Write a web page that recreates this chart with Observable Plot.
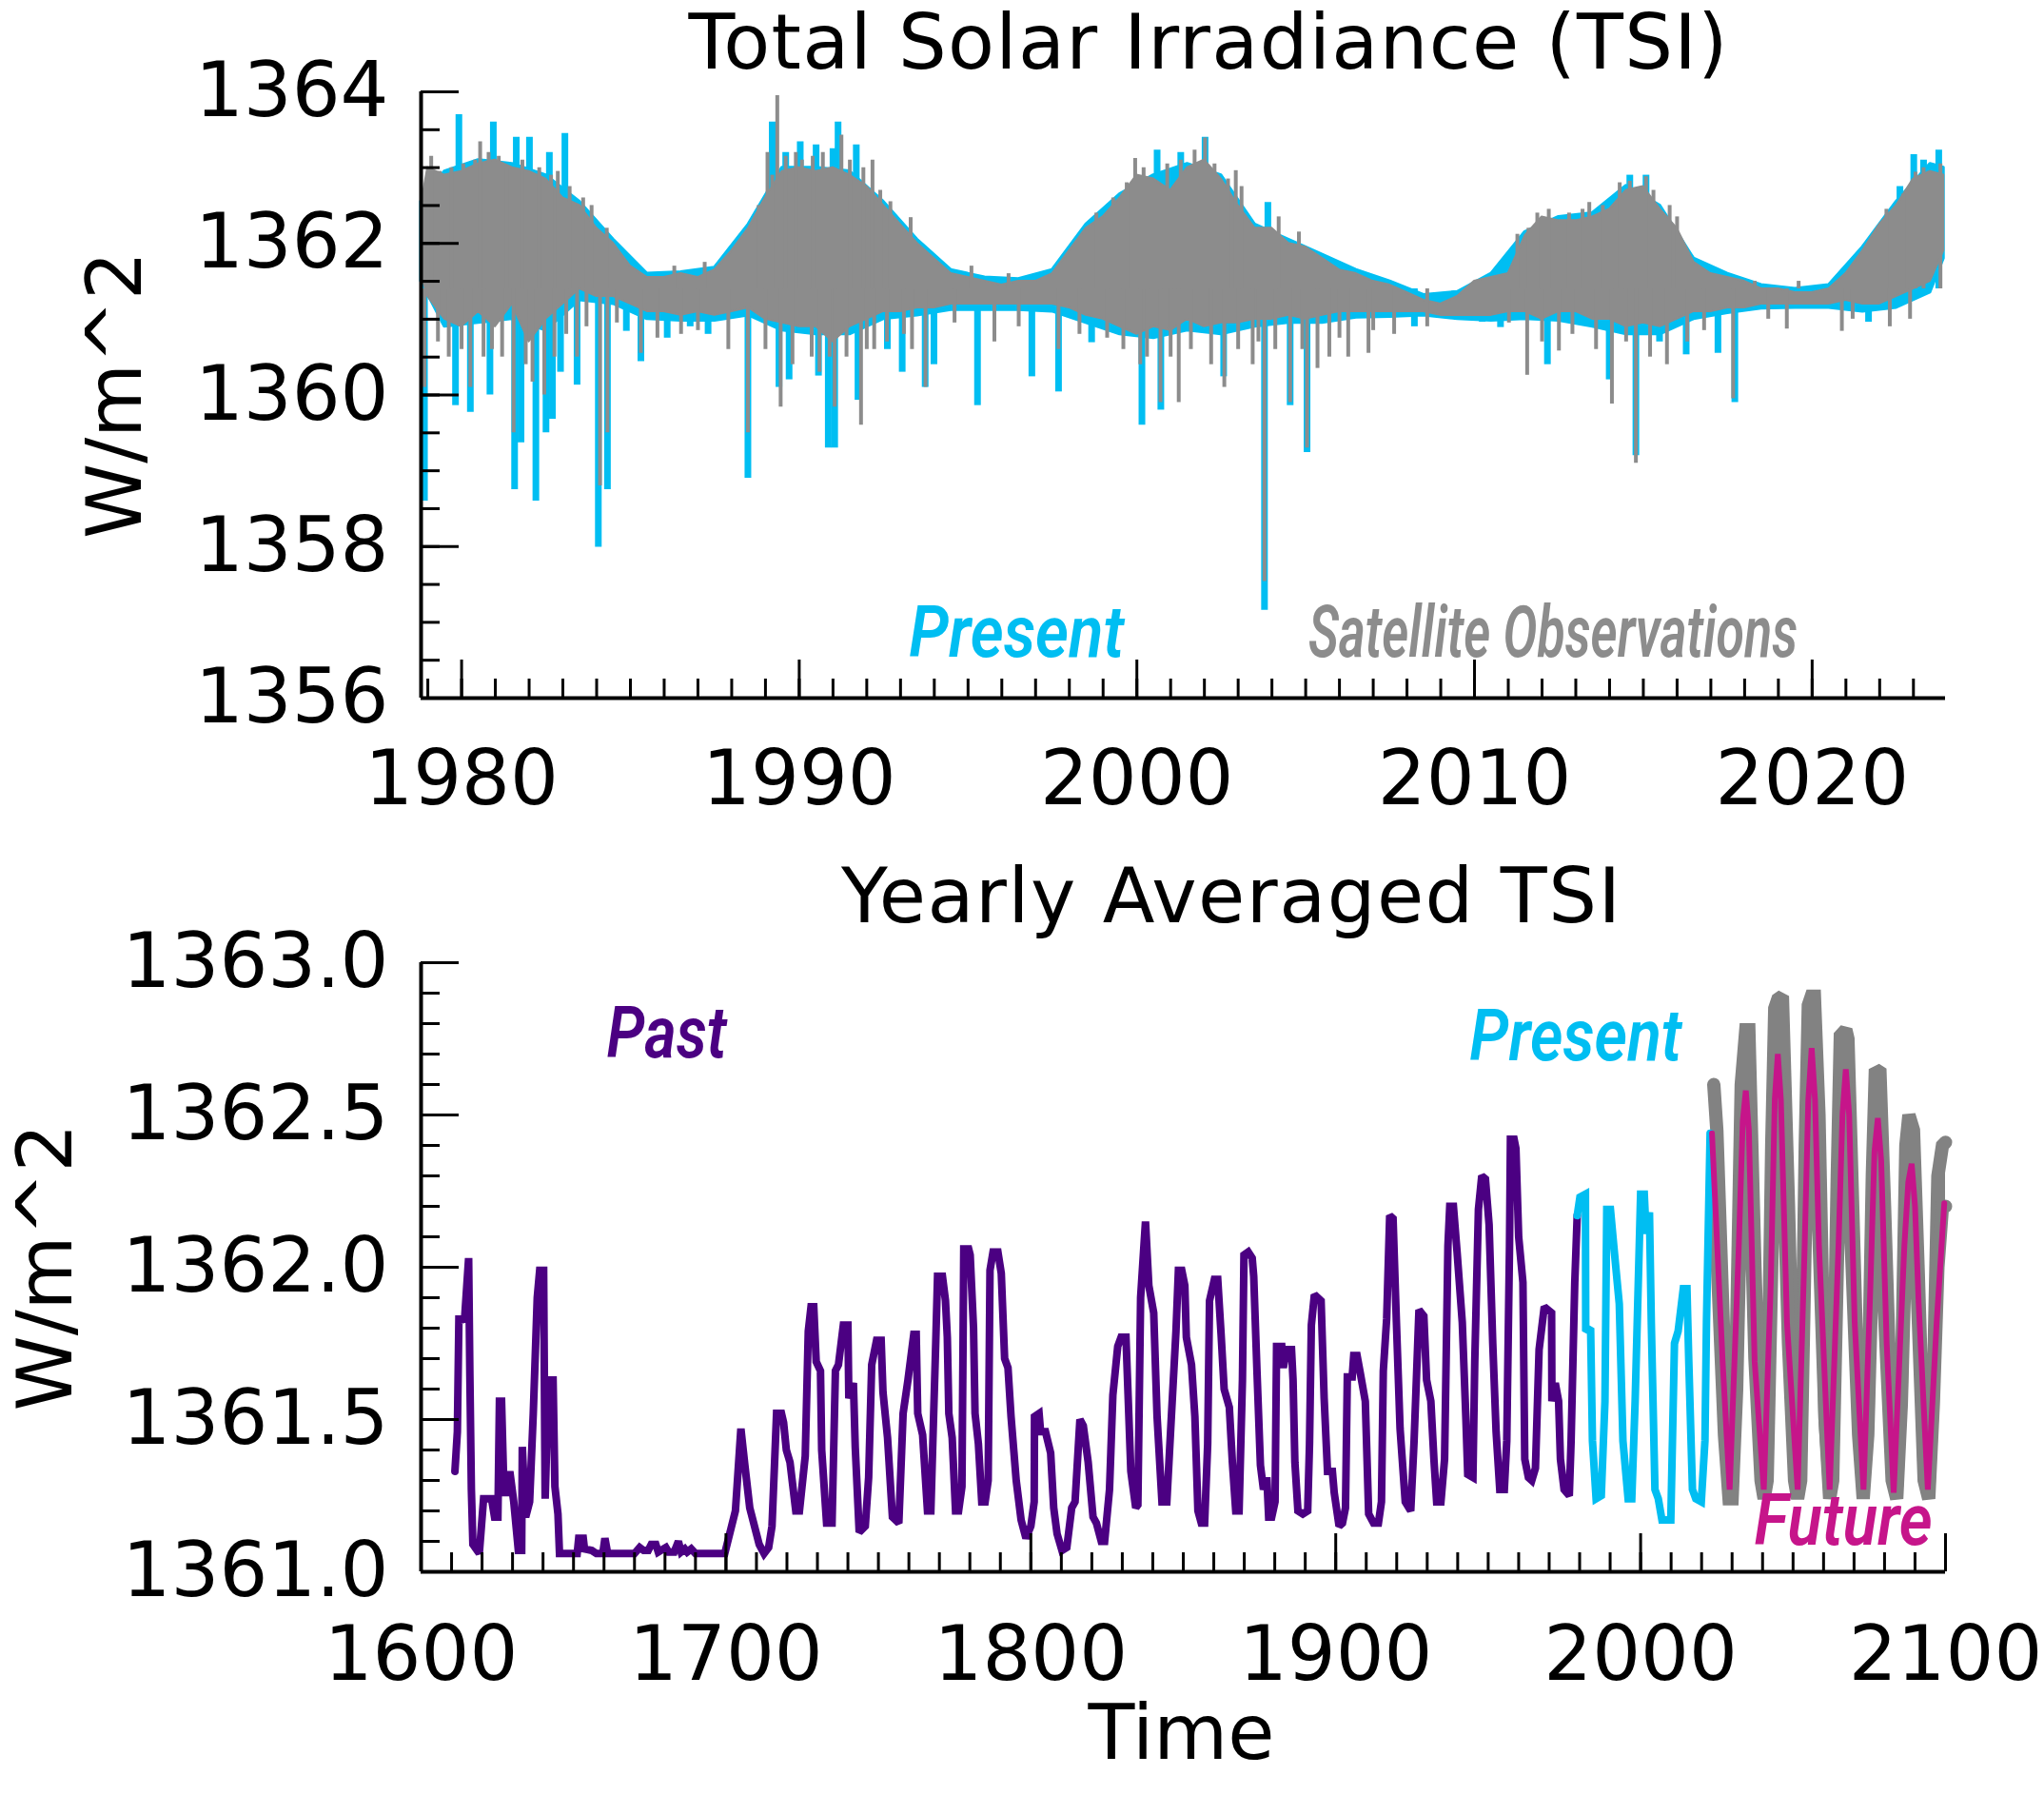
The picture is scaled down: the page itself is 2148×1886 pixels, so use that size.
<!DOCTYPE html>
<html><head><meta charset="utf-8">
<script src="https://cdn.jsdelivr.net/npm/d3@7"></script>
<script src="https://cdn.jsdelivr.net/npm/@observablehq/plot@0.6"></script>
<style>
body{margin:0;background:#fff;}
#chart{position:relative;width:2148px;height:1886px;background:#fff;}
#chart svg{position:absolute;left:0;display:block;}
</style></head><body><div id="chart"></div>
<script>
// ---------------- Top panel: Total Solar Irradiance (satellite observations) ----------------
const tsiTitle = "Total Solar Irradiance (TSI)";
const unitsLabel = "W/m^2";
const tsiXDomain = [1978.8, 2023.95];
const tsiYDomain = [1356, 1364];
const tsiXMajor = [1980, 1990, 2000, 2010, 2020];
const tsiYMajor = [1356, 1358, 1360, 1362, 1364];

// envelope of the grey (satellite observation) daily series
const grayYears = [1978.8,1979,1979.5,1980,1980.5,1981,1981.5,1982,1982.5,1983,1983.5,1984,1984.5,1985,1985.5,1986,1986.5,1987,1987.5,1988,1988.5,1989,1989.5,1990,1990.5,1991,1991.5,1992,1992.5,1993,1993.5,1994,1994.5,1995,1995.5,1996,1996.5,1997,1997.5,1998,1998.5,1999,1999.5,2000,2000.5,2001,2001.5,2002,2002.5,2003,2003.5,2004,2004.5,2005,2005.5,2006,2006.5,2007,2007.5,2008,2008.5,2009,2009.5,2010,2010.5,2011,2011.5,2012,2012.5,2013,2013.5,2014,2014.5,2015,2015.5,2016,2016.5,2017,2017.5,2018,2018.5,2019,2019.5,2020,2020.5,2021,2021.5,2022,2022.5,2023,2023.5,2023.9];
const grayHigh = [1362.5,1363.0,1362.9,1362.95,1363.05,1363.1,1363.0,1362.95,1362.85,1362.6,1362.5,1362.2,1362.0,1361.7,1361.55,1361.55,1361.6,1361.55,1361.65,1361.9,1362.2,1362.6,1362.95,1363.0,1362.95,1363.0,1362.9,1362.75,1362.5,1362.25,1362.0,1361.8,1361.6,1361.55,1361.5,1361.45,1361.5,1361.5,1361.6,1361.9,1362.2,1362.35,1362.6,1362.9,1362.85,1362.7,1363.0,1363.1,1362.85,1362.5,1362.2,1362.2,1362.0,1361.95,1361.8,1361.65,1361.6,1361.5,1361.45,1361.35,1361.25,1361.2,1361.3,1361.5,1361.55,1361.6,1362.1,1362.35,1362.3,1362.3,1362.35,1362.45,1362.7,1362.75,1362.45,1362.2,1361.75,1361.6,1361.55,1361.5,1361.4,1361.4,1361.35,1361.35,1361.4,1361.6,1361.9,1362.25,1362.5,1362.85,1362.95,1362.9];
const grayLow = [1361.6,1361.3,1361.0,1360.9,1361.1,1360.9,1361.2,1360.7,1361.0,1361.2,1361.4,1361.3,1361.3,1361.2,1361.1,1361.1,1361.05,1361.1,1361.05,1361.1,1361.15,1361.0,1360.95,1360.9,1360.9,1360.7,1360.9,1361.0,1361.1,1361.1,1361.15,1361.15,1361.2,1361.2,1361.2,1361.2,1361.2,1361.2,1361.2,1361.15,1361.05,1361.0,1360.9,1360.8,1360.9,1360.85,1361.0,1360.9,1360.95,1360.95,1361.0,1361.0,1361.05,1361.0,1361.05,1361.1,1361.1,1361.1,1361.1,1361.1,1361.1,1361.05,1361.05,1361.05,1361.05,1361.1,1361.1,1361.0,1361.1,1361.1,1361.0,1361.0,1360.9,1360.95,1360.9,1361.0,1361.1,1361.1,1361.15,1361.15,1361.2,1361.2,1361.2,1361.2,1361.2,1361.25,1361.2,1361.2,1361.3,1361.4,1361.5,1361.9];

// envelope of the cyan ("Present") daily series, mostly hidden under the grey one
const cyanYears = [1978.8,1979.5,1980.5,1981.5,1982.5,1983.5,1984.5,1985.5,1986.5,1987.5,1988.5,1989.5,1990.5,1991.5,1992.5,1993.5,1994.5,1995.5,1996.5,1997.5,1998.5,1999.5,2000.5,2001.5,2002.5,2003.5,2004.5,2005.5,2006.5,2007.5,2008.5,2009.5,2010.5,2011.5,2012.5,2013.5,2014.5,2015.5,2016.5,2017.5,2018.5,2019.5,2020.5,2021.5,2022.5,2023.5,2023.9];
const cyanHigh = [1362.55,1362.95,1363.1,1363.05,1362.9,1362.55,1362.05,1361.6,1361.62,1361.68,1362.25,1363.0,1363.0,1362.95,1362.55,1362.05,1361.65,1361.55,1361.53,1361.65,1362.25,1362.65,1362.9,1363.05,1362.9,1362.25,1362.05,1361.85,1361.65,1361.5,1361.32,1361.36,1361.6,1362.15,1362.35,1362.4,1362.76,1362.5,1361.8,1361.6,1361.45,1361.4,1361.45,1361.95,1362.55,1363.05,1363.0];
const cyanLow = [1361.5,1360.9,1360.95,1361.0,1360.85,1361.25,1361.2,1361.0,1360.98,1360.98,1361.05,1360.85,1360.8,1360.8,1361.0,1361.05,1361.12,1361.12,1361.12,1361.1,1360.95,1360.8,1360.75,1360.85,1360.8,1360.9,1360.95,1360.95,1361.02,1361.03,1361.05,1361.0,1360.98,1361.0,1360.98,1360.9,1360.8,1360.8,1361.0,1361.08,1361.14,1361.15,1361.15,1361.1,1361.15,1361.35,1361.8];

// isolated daily excursions (sunspot dips and bright peaks)
const spikeBase = 1361.4;
const cyanSpikeYears = [1978.9,1979.82,1979.92,1980.26,1980.84,1980.94,1981.57,1981.62,1981.76,1982.01,1982.2,1982.5,1982.6,1982.69,1982.93,1983.06,1983.42,1984.05,1984.32,1984.88,1985.31,1986.09,1986.77,1987.3,1988.48,1989.2,1989.4,1989.6,1989.7,1990.03,1990.5,1990.57,1990.86,1991.0,1991.05,1991.15,1991.69,1991.74,1992.61,1993.05,1993.73,1993.99,1995.28,1996.89,1997.68,1998.66,2000.15,2000.6,2000.71,2001.3,2002.02,2002.57,2003.78,2003.88,2004.54,2005.04,2008.22,2010.23,2010.77,2012.16,2013.99,2014.6,2014.78,2015.08,2015.48,2016.27,2017.21,2017.71,2021.67,2022.6,2023.01,2023.3,2023.75];
const cyanSpikeValues = [1358.6,1359.86,1363.7,1359.77,1360.0,1363.6,1358.75,1363.4,1359.37,1363.4,1358.6,1359.5,1363.2,1359.68,1360.3,1363.45,1360.13,1357.99,1358.75,1360.84,1360.44,1360.75,1360.9,1360.8,1358.9,1363.6,1360.1,1363.2,1360.2,1363.34,1363.3,1360.25,1359.3,1363.25,1359.3,1363.6,1363.3,1359.93,1360.6,1360.3,1360.1,1360.4,1359.86,1360.24,1360.04,1360.69,1359.6,1363.23,1359.8,1363.2,1363.4,1360.24,1357.16,1362.54,1359.86,1359.24,1360.9,1360.96,1360.89,1360.4,1360.2,1362.9,1359.2,1362.9,1360.7,1360.53,1360.55,1359.9,1360.96,1362.75,1363.17,1363.1,1363.23];
const graySpikeYears = [1978.9,1979.1,1979.3,1979.35,1979.62,1979.7,1980.0,1980.05,1980.26,1980.4,1980.55,1980.65,1980.8,1980.9,1981.1,1981.2,1981.35,1981.54,1981.8,1981.9,1982.1,1982.3,1982.45,1982.65,1982.75,1982.85,1983.1,1983.2,1983.42,1983.6,1983.7,1983.85,1984.1,1984.3,1984.32,1984.6,1985.31,1985.8,1986.3,1986.5,1987.0,1987.2,1987.9,1988.48,1988.8,1989.0,1989.06,1989.2,1989.35,1989.45,1989.6,1989.8,1989.9,1990.08,1990.37,1990.4,1990.6,1990.7,1990.9,1991.05,1991.25,1991.4,1991.5,1991.83,1991.9,1992.0,1992.17,1992.22,1992.4,1992.6,1992.7,1993.1,1993.3,1993.34,1993.74,1994.6,1995.1,1995.78,1996.2,1996.5,1997.68,1998.3,1998.8,1999.12,1999.3,1999.6,1999.7,1999.95,2000.1,2000.2,2000.3,2000.7,2000.9,2001.0,2001.24,2001.3,2001.6,2001.71,2002.02,2002.2,2002.3,2002.59,2002.7,2002.93,2003.0,2003.1,2003.43,2003.6,2003.78,2004.1,2004.2,2004.54,2004.8,2004.9,2005.04,2005.35,2005.7,2006.0,2006.26,2006.86,2007.0,2007.62,2008.6,2011.02,2011.27,2011.56,2011.6,2011.86,2012.0,2012.2,2012.5,2012.8,2012.9,2013.2,2013.4,2013.6,2013.8,2014.07,2014.3,2014.49,2014.6,2014.78,2015.08,2015.2,2015.3,2015.7,2015.78,2016.0,2016.3,2016.8,2017.66,2018.3,2018.7,2019.25,2019.6,2020.88,2021.2,2022.2,2022.3,2022.7,2022.9,2023.06,2023.3,2023.8];
const graySpikeValues = [1360.1,1363.15,1360.7,1362.95,1360.5,1363.0,1360.6,1363.05,1360.1,1363.1,1363.34,1360.5,1363.2,1360.6,1363.15,1360.5,1363.0,1359.5,1363.1,1360.4,1360.17,1363.0,1360.0,1362.9,1360.5,1362.95,1360.8,1362.75,1360.5,1362.6,1360.9,1362.5,1358.8,1362.2,1359.5,1360.95,1360.55,1360.75,1361.7,1360.8,1360.85,1361.75,1360.6,1359.5,1362.5,1360.6,1363.2,1362.9,1363.95,1359.84,1363.15,1360.4,1363.2,1363.1,1360.5,1363.15,1360.3,1363.2,1360.5,1359.84,1363.43,1360.5,1363.1,1359.6,1363.0,1360.6,1363.1,1360.6,1362.7,1360.7,1362.55,1360.8,1362.34,1360.6,1360.1,1360.95,1361.7,1360.7,1361.6,1360.9,1360.6,1360.8,1362.4,1360.75,1362.6,1360.6,1362.8,1363.12,1360.4,1363.0,1360.5,1359.9,1363.05,1360.5,1359.9,1363.1,1360.6,1363.23,1363.39,1360.4,1363.05,1360.1,1362.85,1362.96,1360.6,1362.75,1360.4,1360.7,1357.54,1360.6,1362.35,1359.9,1362.15,1360.6,1359.3,1360.35,1360.5,1360.75,1360.5,1360.55,1360.85,1360.8,1360.9,1360.95,1362.12,1360.26,1362.2,1362.4,1360.7,1362.45,1360.58,1362.4,1360.8,1362.45,1362.54,1360.6,1362.5,1359.88,1362.8,1360.7,1362.82,1359.1,1362.88,1360.5,1362.7,1360.4,1362.5,1362.35,1360.7,1360.85,1359.95,1361.5,1361.0,1360.87,1361.5,1360.84,1361.0,1362.45,1360.9,1362.65,1361.0,1362.94,1363.0,1363.05];

// ---------------- Bottom panel: Yearly Averaged TSI ----------------
const yearlyTitle = "Yearly Averaged TSI";
const timeLabel = "Time";
const yrXDomain = [1600, 2100];
const yrYDomain = [1361, 1363];
const yrXMajor = [1600, 1700, 1800, 1900, 2000, 2100];
const yrYMajor = [1361.0, 1361.5, 1362.0, 1362.5, 1363.0];

const pastYears = [1611.1,1611.9,1612.4,1613.7,1614.2,1615.6,1616.0,1616.5,1617.0,1619.1,1620.5,1623.1,1624.1,1625.2,1625.7,1626.4,1627.2,1628.3,1629.1,1630.4,1631.9,1633.0,1633.2,1634.3,1635.6,1636.8,1638.1,1638.9,1640.2,1640.7,1641.8,1643.3,1643.9,1644.9,1645.4,1651.2,1651.7,1653.2,1653.6,1656,1657.5,1659.6,1660.3,1661.2,1670,1671.7,1673,1674.5,1675.5,1677,1677.8,1680.3,1681.2,1683,1684.4,1685.3,1686.5,1687.3,1688.6,1690,1699.6,1703.1,1704.9,1706.2,1707.8,1710.9,1712.5,1714.0,1715.1,1716.6,1718.2,1718.9,1719.8,1721.0,1722.9,1724.1,1726.0,1727.0,1727.9,1728.8,1729.6,1731.0,1731.4,1733.0,1734.8,1735.9,1736.9,1738.5,1740.0,1740.3,1741.8,1742.4,1743.7,1745.7,1746.8,1747.8,1749.4,1750.9,1751.5,1753.0,1754.6,1756.7,1758.1,1759.7,1761.6,1762.4,1762.9,1764.5,1766.1,1767.2,1768.8,1769.4,1771.0,1772.0,1772.6,1773.1,1774.2,1775.3,1776.3,1777.4,1778.0,1779.6,1780.1,1781.2,1781.7,1782.8,1783.9,1785.0,1786.0,1786.6,1787.6,1789.2,1790.3,1791.4,1792.5,1793.5,1795.2,1796.8,1798.4,1800.0,1801.1,1801.2,1802.7,1803.2,1804.8,1806.5,1807.5,1808.6,1810.2,1811.8,1813.4,1814.5,1816.1,1817.2,1818.8,1820.4,1821.5,1823.1,1824.2,1825.8,1826.9,1828.5,1829.6,1831.2,1832.8,1834.4,1835.1,1836.0,1837.6,1838.7,1840.3,1841.4,1843.0,1844.6,1846.2,1847.6,1848.4,1849.5,1850.5,1851.0,1852.7,1853.8,1854.8,1855.9,1857.0,1858.0,1858.6,1860.2,1861.3,1862.4,1863.4,1865.1,1866.1,1867.2,1868.3,1869.4,1869.9,1871.3,1872.6,1873.1,1874.2,1875.3,1876.3,1877.4,1878.0,1879.0,1880.1,1880.6,1882.3,1882.8,1883.9,1885.5,1886.0,1886.6,1887.6,1889.2,1890.8,1891.4,1892.0,1893.0,1895.2,1895.7,1896.2,1897.3,1898.9,1899.5,1901.1,1902.2,1903.2,1903.8,1905.4,1905.9,1907.0,1908.1,1909.7,1910.8,1912.4,1914.0,1915.0,1915.6,1916.7,1917.7,1918.8,1919.9,1921.1,1922.8,1924.6,1925.7,1927.3,1928.9,1929.8,1931.2,1932.2,1933.1,1934.5,1935.7,1936.8,1937.4,1938.6,1939.8,1941.5,1942.7,1943.3,1945.0,1945.6,1946.8,1947.9,1949.1,1950.3,1951.5,1952.6,1953.8,1955.3,1956.1,1957.0,1957.3,1958.5,1959.1,1960.0,1961.4,1962.0,1963.2,1964.3,1965.5,1966.7,1968.4,1970.8,1970.9,1972.0,1973.1,1973.7,1974.9,1976.6,1977.2,1978.4,1979.2];
const pastTSI = [1361.33,1361.46,1361.83,1361.83,1361.82,1362.03,1361.65,1361.27,1361.09,1361.06,1361.24,1361.24,1361.18,1361.18,1361.56,1361.56,1361.26,1361.26,1361.33,1361.23,1361.07,1361.07,1361.41,1361.18,1361.23,1361.52,1361.9,1361.99,1361.99,1361.24,1361.63,1361.63,1361.28,1361.19,1361.06,1361.06,1361.11,1361.11,1361.075,1361.07,1361.06,1361.06,1361.11,1361.06,1361.06,1361.08,1361.07,1361.07,1361.09,1361.09,1361.065,1361.08,1361.065,1361.065,1361.1,1361.065,1361.075,1361.065,1361.075,1361.06,1361.06,1361.2,1361.47,1361.35,1361.21,1361.09,1361.06,1361.08,1361.15,1361.52,1361.52,1361.49,1361.4,1361.36,1361.2,1361.2,1361.38,1361.79,1361.87,1361.87,1361.69,1361.66,1361.4,1361.16,1361.16,1361.66,1361.68,1361.81,1361.81,1361.57,1361.62,1361.41,1361.13,1361.15,1361.31,1361.68,1361.76,1361.76,1361.59,1361.44,1361.18,1361.16,1361.52,1361.63,1361.78,1361.78,1361.52,1361.45,1361.2,1361.2,1361.75,1361.97,1361.97,1361.89,1361.77,1361.52,1361.44,1361.2,1361.2,1361.28,1362.06,1362.06,1362.04,1361.8,1361.52,1361.42,1361.23,1361.23,1361.3,1361.99,1362.05,1362.05,1361.98,1361.7,1361.67,1361.51,1361.3,1361.17,1361.11,1361.15,1361.23,1361.51,1361.52,1361.46,1361.46,1361.39,1361.21,1361.125,1361.07,1361.08,1361.21,1361.23,1361.5,1361.48,1361.36,1361.18,1361.16,1361.1,1361.1,1361.27,1361.58,1361.74,1361.77,1361.77,1361.33,1361.21,1361.22,1361.9,1362.15,1361.94,1361.85,1361.51,1361.23,1361.23,1361.53,1361.79,1361.99,1361.99,1361.94,1361.77,1361.68,1361.51,1361.2,1361.16,1361.16,1361.42,1361.89,1361.96,1361.96,1361.78,1361.6,1361.54,1361.36,1361.2,1361.2,1361.63,1362.04,1362.05,1362.03,1361.97,1361.65,1361.35,1361.27,1361.31,1361.18,1361.18,1361.23,1361.74,1361.74,1361.67,1361.73,1361.73,1361.63,1361.36,1361.2,1361.19,1361.2,1361.42,1361.81,1361.91,1361.89,1361.73,1361.57,1361.33,1361.33,1361.26,1361.15,1361.16,1361.21,1361.64,1361.64,1361.71,1361.71,1361.65,1361.56,1361.19,1361.16,1361.16,1361.23,1361.66,1361.83,1362.17,1362.16,1361.82,1361.47,1361.23,1361.2,1361.43,1361.86,1361.84,1361.63,1361.56,1361.37,1361.23,1361.23,1361.37,1362.07,1362.2,1362.2,1362.05,1361.82,1361.5,1361.32,1361.31,1361.69,1362.19,1362.3,1362.29,1362.14,1361.75,1361.46,1361.27,1361.27,1361.43,1362.07,1362.42,1362.42,1362.39,1362.1,1361.95,1361.37,1361.31,1361.3,1361.34,1361.73,1361.87,1361.85,1361.56,1361.62,1361.56,1361.37,1361.27,1361.25,1361.43,1361.95,1362.17];

const presentYears = [1979.2,1980.1,1981.9,1982.0,1983.6,1984.2,1985.4,1987.1,1988.3,1988.9,1990.1,1991.2,1993.0,1994.2,1995.9,1997.1,1998.2,2000.0,2001.2,2001.8,2002.9,2003.5,2004.7,2005.8,2007.0,2008.2,2009.9,2011.1,2012.3,2014.0,2015.2,2015.8,2017.0,2018.1,2019.9,2021.1,2021.6,2022.8];
const presentTSI = [1362.17,1362.23,1362.24,1361.79,1361.8,1361.43,1361.24,1361.25,1361.56,1362.19,1362.19,1362.07,1361.88,1361.43,1361.24,1361.24,1361.56,1362.24,1362.24,1362.11,1362.18,1361.82,1361.27,1361.24,1361.17,1361.17,1361.17,1361.75,1361.79,1361.93,1361.93,1361.69,1361.27,1361.24,1361.23,1361.43,1361.82,1362.44];

const futureYears = [2023.4,2026.9,2029.2,2032.2,2033.5,2034.5,2035.5,2037.4,2040.4,2042.7,2044.0,2045.0,2046.0,2048.0,2051.5,2053.8,2055.0,2056.1,2057.2,2058.5,2062.0,2064.9,2066.2,2067.3,2068.4,2070.2,2073.1,2075.4,2076.7,2077.8,2078.9,2080.7,2083.0,2086.5,2087.8,2088.9,2090.0,2091.2,2094.2,2097.1,2099.6];
const futureTSI = [1362.44,1361.69,1361.27,1362.07,1362.48,1362.58,1362.45,1361.69,1361.27,1361.95,1362.55,1362.7,1362.55,1361.82,1361.27,1362.07,1362.55,1362.72,1362.55,1362.07,1361.27,1362.07,1362.5,1362.65,1362.5,1361.82,1361.27,1361.95,1362.38,1362.49,1362.35,1361.75,1361.26,1362.07,1362.28,1362.34,1362.2,1361.88,1361.27,1361.82,1362.21];

// grey ensemble spread of future projections
const ensembleYears = [2024.0,2025.0,2027.5,2029.0,2030.0,2031.5,2033.0,2034.5,2035.5,2037.5,2039.5,2040.5,2041.5,2043.0,2044.0,2045.0,2046.5,2048.5,2050.5,2051.5,2052.5,2054.0,2055.0,2056.0,2057.0,2058.5,2060.5,2062.0,2063.0,2064.5,2065.5,2067.3,2068.0,2069.0,2071.5,2073.0,2074.5,2076.0,2077.0,2078.5,2080.0,2082.5,2084.0,2085.5,2087.0,2088.0,2089.5,2091.0,2093.0,2094.5,2096.0,2097.5,2099.0,2100.0];
const ensembleLow = [1362.2,1362.05,1361.45,1361.24,1361.24,1361.6,1362.3,1362.55,1362.45,1361.7,1361.3,1361.24,1361.3,1362.0,1362.45,1362.68,1362.45,1361.75,1361.3,1361.24,1361.3,1362.1,1362.5,1362.7,1362.55,1362.1,1361.5,1361.24,1361.3,1362.0,1362.4,1362.62,1362.5,1362.1,1361.45,1361.24,1361.45,1362.0,1362.4,1362.35,1361.85,1361.3,1361.24,1361.55,1362.1,1362.3,1362.25,1361.85,1361.3,1361.24,1361.55,1362.0,1362.2,1362.2];
const ensembleHigh = [1362.6,1362.45,1361.7,1361.3,1361.3,1361.8,1362.6,1362.78,1362.78,1362.0,1361.35,1361.28,1361.4,1362.4,1362.85,1362.88,1362.89,1362.2,1361.4,1361.28,1361.4,1362.4,1362.86,1362.89,1362.89,1362.5,1361.5,1361.28,1361.4,1362.3,1362.76,1362.78,1362.75,1362.4,1361.5,1361.28,1361.5,1362.3,1362.65,1362.64,1362.2,1361.4,1361.28,1361.6,1362.4,1362.5,1362.45,1362.0,1361.35,1361.28,1361.6,1362.3,1362.4,1362.41];

// ---------------- styling ----------------
const CYAN = "#00BEF2", GRAY = "#8C8C8C", ENS_GRAY = "#828282", PURPLE = "#4B0082", MAGENTA = "#C6158A";
const FONT = "'DejaVu Sans', Verdana, sans-serif";
const LABEL_FONT = "Roboto, 'DejaVu Sans Condensed', sans-serif";

const zip2 = (xs, lo, hi) => xs.map((t, i) => ({t, lo: lo[i], hi: hi[i]}));
const zip = (xs, ys) => xs.map((t, i) => ({t, v: ys[i]}));

function fitText(svg, str, width, adjust = "spacingAndGlyphs") {
  d3.select(svg).selectAll("text")
    .filter(function() { return this.textContent === str; })
    .attr("textLength", width).attr("lengthAdjust", adjust);
}

const tagOpts = (color) => ({textAnchor: "start", lineAnchor: "bottom", fill: color, fontStyle: "italic",
  fontWeight: 600, fontFamily: LABEL_FONT, fontSize: 76});
const lineOpts = {strokeLinejoin: "miter", strokeMiterlimit: 2};

// ---------- top plot ----------
const topPlot = Plot.plot({
  width: 2148, height: 880,
  marginLeft: 442, marginRight: 104, marginTop: 96, marginBottom: 147,
  x: {domain: tsiXDomain, label: null},
  y: {domain: tsiYDomain, label: null},
  style: {fontFamily: FONT, fontSize: "80px", background: "white", color: "black", overflow: "visible"},
  marks: [
    Plot.areaY(zip2(cyanYears, cyanLow, cyanHigh), {x: "t", y1: "lo", y2: "hi", fill: CYAN, stroke: CYAN, strokeWidth: 3}),
    Plot.ruleX(zip(cyanSpikeYears, cyanSpikeValues), {x: "t", y1: spikeBase, y2: "v", stroke: CYAN, strokeWidth: 7}),
    Plot.areaY(zip2(grayYears, grayLow, grayHigh), {x: "t", y1: "lo", y2: "hi", fill: GRAY, stroke: GRAY, strokeWidth: 2}),
    Plot.ruleX(zip(graySpikeYears, graySpikeValues), {x: "t", y1: spikeBase, y2: "v", stroke: GRAY, strokeWidth: 4}),
    Plot.ruleY([tsiYDomain[0]], {stroke: "black", strokeWidth: 4}),
    Plot.ruleX([tsiXDomain[0]], {stroke: "black", strokeWidth: 4}),
    Plot.axisY({ticks: d3.range(1356, 1364.01, 0.5), tickSize: 20, dx: 20, text: null, strokeWidth: 3, label: null}),
    Plot.axisY({ticks: tsiYMajor, tickSize: 40, dx: 40, text: null, strokeWidth: 3, label: null}),
    Plot.axisY({ticks: tsiYMajor, tickSize: 0, tickPadding: 34, tickFormat: d3.format("d"), fontSize: 80, label: null}),
    Plot.axisX({ticks: d3.range(1979, 2024, 1), tickSize: 20, dy: -20, text: null, strokeWidth: 3, label: null}),
    Plot.axisX({ticks: tsiXMajor, tickSize: 40, dy: -40, text: null, strokeWidth: 3, label: null}),
    Plot.axisX({ticks: tsiXMajor, tickSize: 0, tickPadding: 55, tickFormat: d3.format("d"), fontSize: 80, label: null}),
    Plot.text([tsiTitle], {frameAnchor: "top", textAnchor: "middle", dx: 26, dy: -25, lineAnchor: "bottom", fontSize: 80}),
    Plot.text([unitsLabel], {frameAnchor: "left", textAnchor: "middle", lineAnchor: "middle", dx: -320, rotate: -90, fontSize: 80}),
    Plot.text(["Present"], {x: 1993.25, y: 1356.55, ...tagOpts(CYAN)}),
    Plot.text(["Satellite Observations"], {x: 2005.08, y: 1356.55, ...tagOpts(GRAY)})
  ]
});
fitText(topPlot, "Present", 226);
fitText(topPlot, "Satellite Observations", 514);
fitText(topPlot, tsiTitle, 1092, "spacing");
topPlot.style.top = "0px";

// ---------- bottom plot ----------
const ensemble = zip2(ensembleYears, ensembleLow, ensembleHigh);
const botPlot = Plot.plot({
  width: 2148, height: 1006,
  marginLeft: 442, marginRight: 104, marginTop: 131, marginBottom: 235,
  x: {domain: yrXDomain, label: null},
  y: {domain: yrYDomain, label: null},
  style: {fontFamily: FONT, fontSize: "80px", background: "white", color: "black", overflow: "visible"},
  marks: [
    Plot.areaY(ensemble, {x: "t", y1: "lo", y2: "hi", fill: ENS_GRAY}),
    Plot.line(ensemble, {x: "t", y: "hi", stroke: ENS_GRAY, strokeWidth: 14, ...lineOpts}),
    Plot.line(ensemble, {x: "t", y: "lo", stroke: ENS_GRAY, strokeWidth: 14, ...lineOpts}),
    Plot.line(zip(pastYears, pastTSI), {x: "t", y: "v", stroke: PURPLE, strokeWidth: 8, ...lineOpts}),
    Plot.line(zip(presentYears, presentTSI), {x: "t", y: "v", stroke: CYAN, strokeWidth: 8, ...lineOpts}),
    Plot.line(zip(futureYears, futureTSI), {x: "t", y: "v", stroke: MAGENTA, strokeWidth: 6, ...lineOpts}),
    Plot.ruleY([yrYDomain[0]], {stroke: "black", strokeWidth: 4}),
    Plot.ruleX([yrXDomain[0]], {stroke: "black", strokeWidth: 4}),
    Plot.axisY({ticks: d3.range(1361, 1363.001, 0.1), tickSize: 20, dx: 20, text: null, strokeWidth: 3, label: null}),
    Plot.axisY({ticks: yrYMajor, tickSize: 40, dx: 40, text: null, strokeWidth: 3, label: null}),
    Plot.axisY({ticks: yrYMajor, tickSize: 0, tickPadding: 34, tickFormat: d3.format(".1f"), fontSize: 80, label: null}),
    Plot.axisX({ticks: d3.range(1600, 2101, 10), tickSize: 20, dy: -20, text: null, strokeWidth: 3, label: null}),
    Plot.axisX({ticks: yrXMajor, tickSize: 40, dy: -40, text: null, strokeWidth: 3, label: null}),
    Plot.axisX({ticks: yrXMajor, tickSize: 0, tickPadding: 57, tickFormat: d3.format("d"), fontSize: 80, label: null}),
    Plot.text([yearlyTitle], {frameAnchor: "top", textAnchor: "middle", dx: 50, dy: -43, lineAnchor: "bottom", fontSize: 80}),
    Plot.text([unitsLabel], {frameAnchor: "left", textAnchor: "middle", lineAnchor: "middle", dx: -393, rotate: -90, fontSize: 80}),
    Plot.text([timeLabel], {frameAnchor: "bottom", textAnchor: "middle", dx: -2, dy: 196, lineAnchor: "bottom", fontSize: 80}),
    Plot.text(["Past"], {x: 1660.9, y: 1362.69, ...tagOpts(PURPLE)}),
    Plot.text(["Present"], {x: 1943.9, y: 1362.68, ...tagOpts(CYAN)}),
    Plot.text(["Future"], {x: 2037.3, y: 1361.09, ...tagOpts(MAGENTA)})
  ]
});
fitText(botPlot, "Past", 126);
fitText(botPlot, "Present", 223);
fitText(botPlot, "Future", 187);
fitText(botPlot, yearlyTitle, 819, "spacing");
botPlot.style.top = "880px";

const host = document.getElementById("chart");
host.appendChild(topPlot);
host.appendChild(botPlot);
</script>
</body></html>
